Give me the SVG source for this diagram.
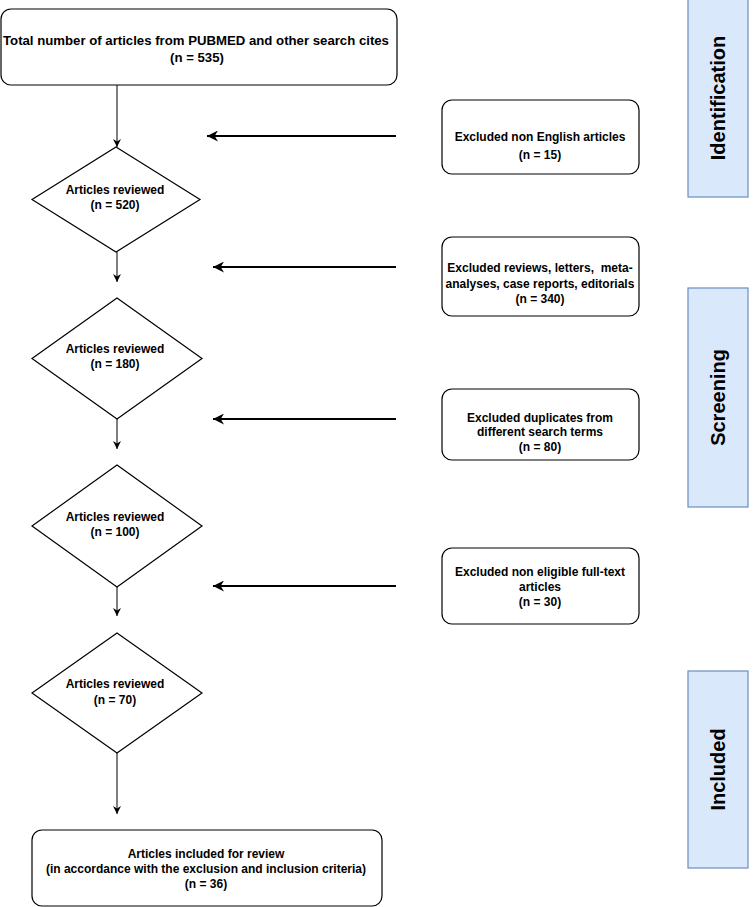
<svg xmlns="http://www.w3.org/2000/svg" width="754" height="907" viewBox="0 0 754 907">
<style>
.box{fill:#ffffff;stroke:#000000;stroke-width:1.2}
.band{fill:#dae8fc;stroke:#6c8ebf;stroke-width:1.2}
.t{font-family:"Liberation Sans",Arial,Helvetica,sans-serif;font-weight:bold;font-size:12px;fill:#000000;text-anchor:middle}
.big{font-size:13.2px}
.pre{white-space:pre}
.lbl{font-family:"Liberation Sans",Arial,Helvetica,sans-serif;font-weight:bold;font-size:20px;fill:#000000;text-anchor:middle}
.thin{stroke:#000000;stroke-width:1;fill:none}
.thick{stroke:#000000;stroke-width:2;fill:none}
</style>
<defs>
<marker id="ah" viewBox="0 0 10 10" refX="10" refY="5" markerWidth="8" markerHeight="8" markerUnits="userSpaceOnUse" orient="auto">
<path d="M0,0 L10,5 L0,10 L3,5 Z" fill="#000000"/>
</marker>
<marker id="ahb" viewBox="0 0 10 10" refX="10" refY="5" markerWidth="13" markerHeight="11" markerUnits="userSpaceOnUse" orient="auto">
<path d="M0,0 L10,5 L0,10 L3,5 Z" fill="#000000"/>
</marker>
</defs>
<rect width="754" height="907" fill="#ffffff"/>

<g id="band-identification">
<rect class="band" x="688" y="-1" width="60" height="198"/>
<text class="lbl" transform="translate(725,98) rotate(-90)">Identification</text>
</g>
<g id="band-screening">
<rect class="band" x="688" y="288" width="60" height="219"/>
<text class="lbl" transform="translate(725,397.5) rotate(-90)">Screening</text>
</g>
<g id="band-included">
<rect class="band" x="688" y="671" width="60" height="197"/>
<text class="lbl" transform="translate(725,769.5) rotate(-90)">Included</text>
</g>

<g id="connectors">
<line class="thin" x1="117" y1="85" x2="117" y2="147" marker-end="url(#ah)"/>
<line class="thin" x1="117" y1="252" x2="117" y2="282" marker-end="url(#ah)"/>
<line class="thin" x1="117" y1="419" x2="117" y2="449" marker-end="url(#ah)"/>
<line class="thin" x1="117" y1="587" x2="117" y2="616" marker-end="url(#ah)"/>
<line class="thin" x1="117" y1="753" x2="117" y2="814" marker-end="url(#ah)"/>
<line class="thick" x1="396" y1="136" x2="207" y2="136" marker-end="url(#ahb)"/>
<line class="thick" x1="396" y1="267" x2="213" y2="267" marker-end="url(#ahb)"/>
<line class="thick" x1="396" y1="419" x2="213" y2="419" marker-end="url(#ahb)"/>
<line class="thick" x1="396" y1="586" x2="213" y2="586" marker-end="url(#ahb)"/>
</g>

<g id="total">
<rect class="box" x="1" y="9" width="396" height="76" rx="10" ry="10"/>
<text class="t big" x="196" y="45">Total number of articles from PUBMED and other search cites</text>
<text class="t big" x="197" y="62">(n = 535)</text>
</g>

<g id="reviewed-520">
<polygon class="box" points="116,147 200,199.5 116,252 32,199.5"/>
<text class="t" x="115" y="194">Articles reviewed</text>
<text class="t" x="115" y="209">(n = 520)</text>
</g>

<g id="reviewed-180">
<polygon class="box" points="117,298 202,358.5 117,419 32,358.5"/>
<text class="t" x="115" y="353">Articles reviewed</text>
<text class="t" x="115" y="368">(n = 180)</text>
</g>

<g id="reviewed-100">
<polygon class="box" points="117,465 202,526 117,587 32,526"/>
<text class="t" x="115" y="521">Articles reviewed</text>
<text class="t" x="115" y="536">(n = 100)</text>
</g>

<g id="reviewed-70">
<polygon class="box" points="117,633 202,693 117,753 32,693"/>
<text class="t" x="115" y="688">Articles reviewed</text>
<text class="t" x="115" y="704">(n = 70)</text>
</g>

<g id="included-36">
<rect class="box" x="32" y="830" width="350" height="76" rx="10" ry="10"/>
<text class="t" x="206" y="858">Articles included for review</text>
<text class="t" x="206" y="873">(in accordance with the exclusion and inclusion criteria)</text>
<text class="t" x="206" y="888">(n = 36)</text>
</g>

<g id="excluded-15">
<rect class="box" x="442" y="100" width="197" height="74" rx="10" ry="10"/>
<text class="t" x="540" y="141">Excluded non English articles</text>
<text class="t" x="540" y="159">(n = 15)</text>
</g>

<g id="excluded-340">
<rect class="box" x="442" y="237" width="197" height="79" rx="10" ry="10"/>
<text class="t pre" x="540" y="272">Excluded reviews, letters,  meta-</text>
<text class="t" x="540" y="288">analyses, case reports, editorials</text>
<text class="t" x="540" y="303">(n = 340)</text>
</g>

<g id="excluded-80">
<rect class="box" x="442" y="389" width="197" height="71" rx="10" ry="10"/>
<text class="t" x="540" y="422">Excluded duplicates from</text>
<text class="t" x="540" y="436">different search terms</text>
<text class="t" x="540" y="451">(n = 80)</text>
</g>

<g id="excluded-30">
<rect class="box" x="442" y="548" width="197" height="76" rx="10" ry="10"/>
<text class="t" x="540" y="576">Excluded non eligible full-text</text>
<text class="t" x="540" y="591">articles</text>
<text class="t" x="540" y="606">(n = 30)</text>
</g>
</svg>
